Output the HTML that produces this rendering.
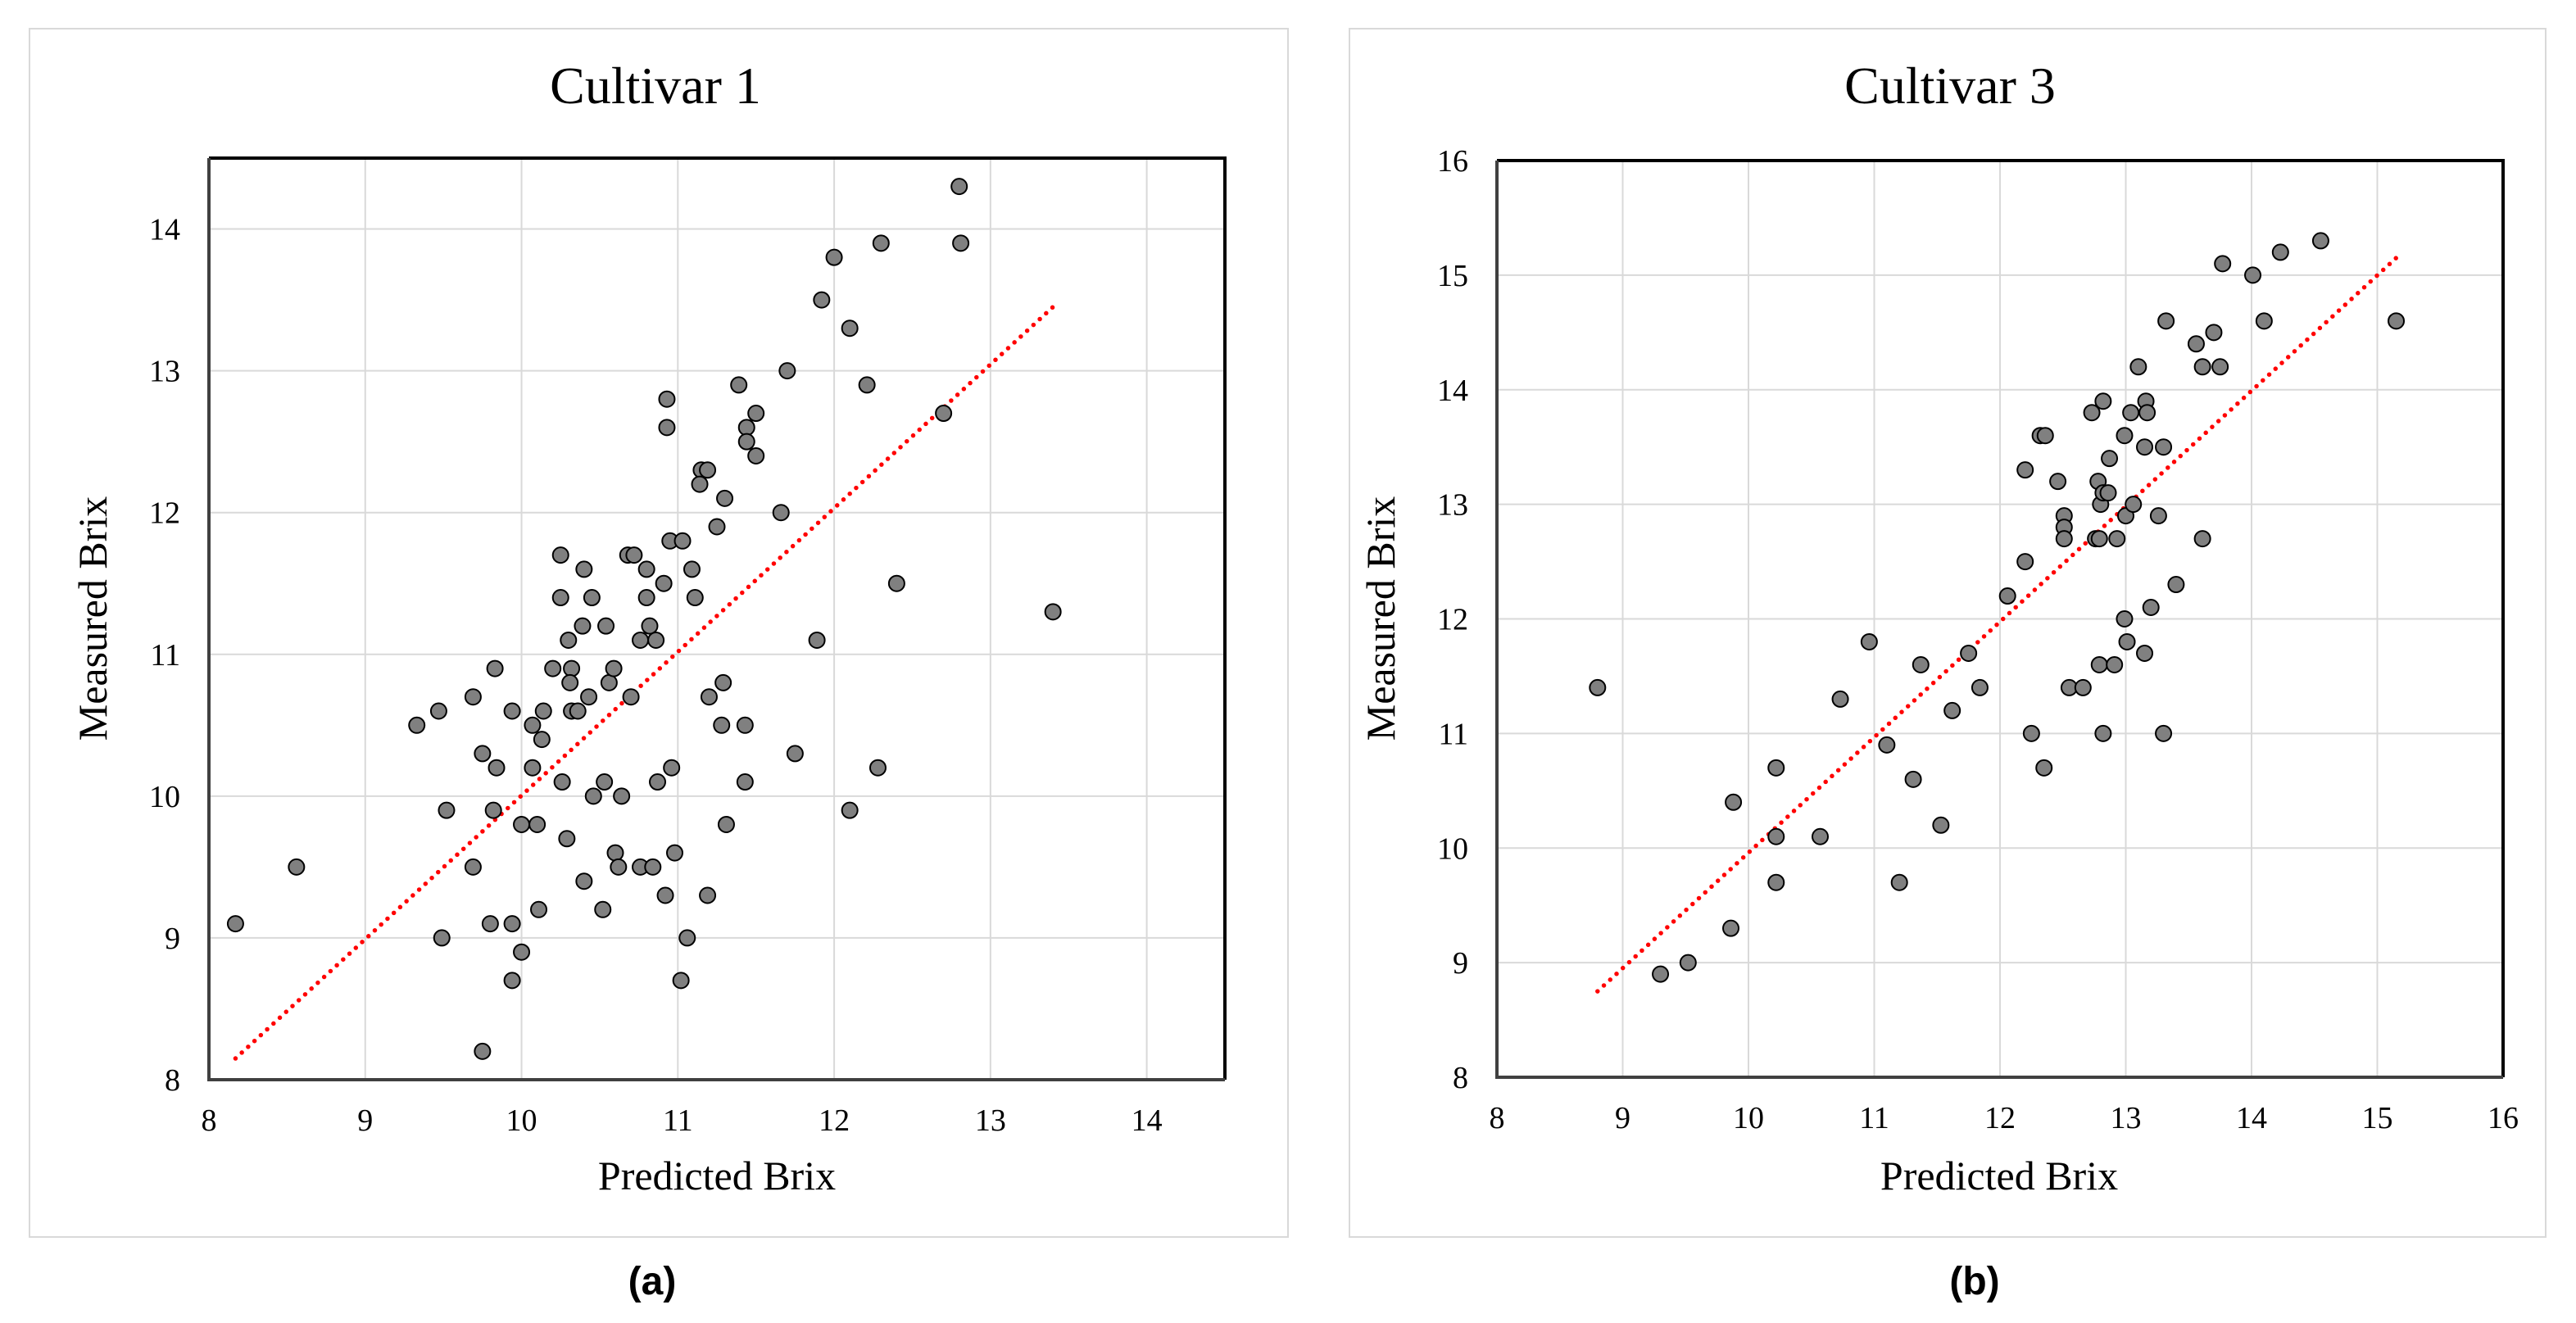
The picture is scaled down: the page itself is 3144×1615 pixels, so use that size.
<!DOCTYPE html>
<html><head><meta charset="utf-8"><style>
html,body{margin:0;padding:0;background:#fff;}
svg{display:block;font-family:"Liberation Serif",serif;}
</style></head><body>
<svg id="fig" width="3144" height="1615" viewBox="0 0 3144 1615" xmlns="http://www.w3.org/2000/svg">
<rect x="36" y="35" width="1536" height="1475" fill="#fff" stroke="#d9d9d9" stroke-width="2"/>
<rect x="1647" y="35" width="1460" height="1475" fill="#fff" stroke="#d9d9d9" stroke-width="2"/>
<text x="800" y="126" font-size="64" text-anchor="middle">Cultivar 1</text>
<text x="2380" y="126" font-size="64" text-anchor="middle">Cultivar 3</text>
<text x="875" y="1452" font-size="50" text-anchor="middle">Predicted Brix</text>
<text x="2440" y="1452" font-size="50" text-anchor="middle">Predicted Brix</text>
<text transform="translate(130,755) rotate(-90)" font-size="50" text-anchor="middle">Measured Brix</text>
<text transform="translate(1702,755) rotate(-90)" font-size="50" text-anchor="middle">Measured Brix</text>
<text x="796" y="1580" font-size="48" font-weight="bold" text-anchor="middle" font-family="Liberation Sans, sans-serif">(a)</text>
<text x="2410" y="1580" font-size="48" font-weight="bold" text-anchor="middle" font-family="Liberation Sans, sans-serif">(b)</text>
</svg>
<script>
const xA = [8.17,8.56,9.33,9.47,9.52,9.49,9.69,9.69,9.75,9.75,9.83,9.84,9.82,9.80,9.94,9.94,9.94,10.0,10.0,10.07,10.07,10.10,10.13,10.14,10.11,10.2,10.25,10.25,10.26,10.29,10.3,10.32,10.31,10.32,10.36,10.39,10.40,10.40,10.45,10.43,10.46,10.54,10.53,10.52,10.56,10.59,10.60,10.62,10.64,10.68,10.72,10.70,10.76,10.76,10.80,10.80,10.82,10.86,10.84,10.87,10.91,10.92,10.93,10.93,10.95,10.96,10.98,11.03,11.06,11.02,11.09,11.11,11.15,11.19,11.14,11.20,11.19,11.25,11.28,11.29,11.30,11.31,11.39,11.44,11.44,11.43,11.43,11.50,11.50,11.66,11.70,11.75,11.89,11.92,12.0,12.10,12.10,12.21,12.28,12.30,12.40,12.70,12.80,12.81,13.40];
const yA = [9.1,9.5,10.5,10.6,9.9,9.0,10.7,9.5,10.3,8.2,10.9,10.2,9.9,9.1,10.6,9.1,8.7,9.8,8.9,10.5,10.2,9.8,10.4,10.6,9.2,10.9,11.7,11.4,10.1,9.7,11.1,10.9,10.8,10.6,10.6,11.2,11.6,9.4,11.4,10.7,10.0,11.2,10.1,9.2,10.8,10.9,9.6,9.5,10.0,11.7,11.7,10.7,11.1,9.5,11.6,11.4,11.2,11.1,9.5,10.1,11.5,9.3,12.8,12.6,11.8,10.2,9.6,11.8,9.0,8.7,11.6,11.4,12.3,12.3,12.2,10.7,9.3,11.9,10.5,10.8,12.1,9.8,12.9,12.6,12.5,10.5,10.1,12.7,12.4,12.0,13.0,10.3,11.1,13.5,13.8,13.3,9.9,12.9,10.2,13.9,11.5,12.7,14.3,13.9,11.3];
const fitXA = [8.17,13.40];
const fitYA = [8.15,13.45];
const ticksA = [8,9,10,11,12,13,14];
const yTicksA = [8,9,10,11,12,13,14];

const xB = [8.80,9.30,9.52,9.86,9.88,10.22,10.22,10.22,10.57,10.73,10.96,11.10,11.2,11.31,11.37,11.53,11.62,11.75,11.84,12.06,12.20,12.20,12.25,12.32,12.36,12.35,12.46,12.51,12.51,12.51,12.55,12.66,12.73,12.76,12.78,12.80,12.79,12.79,12.82,12.82,12.86,12.82,12.87,12.91,12.93,12.99,13.0,12.99,13.01,13.06,13.04,13.10,13.15,13.16,13.17,13.15,13.20,13.26,13.30,13.30,13.32,13.40,13.56,13.61,13.61,13.70,13.75,13.77,14.01,14.10,14.23,14.55,15.15];
const yB = [11.4,8.9,9.0,9.3,10.4,10.7,10.1,9.7,10.1,11.3,11.8,10.9,9.7,10.6,11.6,10.2,11.2,11.7,11.4,12.2,13.3,12.5,11.0,13.6,13.6,10.7,13.2,12.9,12.8,12.7,11.4,11.4,13.8,12.7,13.2,13.0,12.7,11.6,13.9,13.1,13.1,11.0,13.4,11.6,12.7,13.6,12.9,12.0,11.8,13.0,13.8,14.2,13.5,13.9,13.8,11.7,12.1,12.9,13.5,11.0,14.6,12.3,14.4,14.2,12.7,14.5,14.2,15.1,15.0,14.6,15.2,15.3,14.6];
const fitXB = [8.8,15.15];
const fitYB = [8.75,15.15];
const ticksB = [8,9,10,11,12,13,14,15,16];
const yTicksB = [8,9,10,11,12,13,14,15,16];

const NS = "http://www.w3.org/2000/svg";
const svg = document.getElementById('fig');
function mk(tag, attrs, parent){const e=document.createElementNS(NS,tag);for(const k in attrs)e.setAttribute(k,attrs[k]);(parent||svg).appendChild(e);return e;}

function panel(id, L, R, T, B, xmin, xmax, ymin, ymax, xt, yt, xs, ys, fx, fy){
  const sx = v => L + (v - xmin) / (xmax - xmin) * (R - L);
  const sy = v => B - (v - ymin) / (ymax - ymin) * (B - T);
  const g = mk('g', {});
  
  
  xt.forEach(t => {
    const l = mk('line', {x1:sx(t), x2:sx(t), y1:T, y2:B, stroke:'#d9d9d9', 'stroke-width':2}, g);
    
    
    const tx = mk('text', {x:sx(t), y:B+62, 'font-size':38, 'text-anchor':'middle'}, g);
    tx.textContent = t;
    
    
  });
  yt.forEach(t => {
    const l = mk('line', {x1:L, x2:R, y1:sy(t), y2:sy(t), stroke:'#d9d9d9', 'stroke-width':2}, g);
    
    
    const tx = mk('text', {x:L-35, y:sy(t)+13, 'font-size':38, 'text-anchor':'end'}, g);
    tx.textContent = t;
    
    
  });
  const fr = mk('path', {d:`M${L},${T} H${R} V${B}`, fill:'none', stroke:'#000', 'stroke-width':4}, g);
  
  
  const ax = mk('path', {d:`M${L},${T} V${B} H${R}`, fill:'none', stroke:'#404040', 'stroke-width':4}, g);
  
  
  const fl = mk('line', {x1:sx(fx[0]), y1:sy(fy[0]), x2:sx(fx[1]), y2:sy(fy[1]), stroke:'#ff0000', 'stroke-width':5.5, 'stroke-linecap':'round', 'stroke-dasharray':'0 10.5'}, g);
  
  
  xs.forEach((v,i) => {
    const c = mk('circle', {cx:sx(v), cy:sy(ys[i]), r:9.5, fill:'#808080', stroke:'#000', 'stroke-width':2}, g);
    
    
  });
}
panel('a', 255, 1495, 193, 1318, 8, 14.5, 8, 14.5, ticksA, yTicksA, xA, yA, fitXA, fitYA);
panel('b', 1827, 3055, 196, 1315, 8, 16, 8, 16, ticksB, yTicksB, xB, yB, fitXB, fitYB);
</script>
</body></html>
